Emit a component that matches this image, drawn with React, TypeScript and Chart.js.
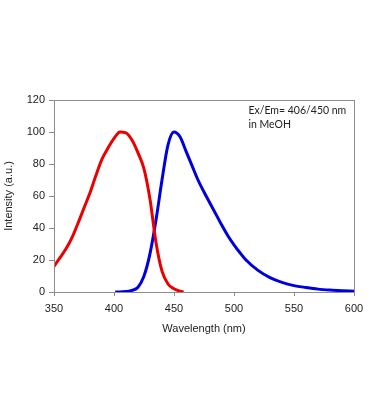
import React, { useEffect, useRef } from "react";
import { Chart, registerables } from "chart.js";

Chart.register(...registerables);

const excitationWavelengths = [350, 355, 360, 365, 370, 375, 380, 385, 390, 395, 400, 405, 410, 415, 420, 425, 430, 435, 440, 445, 450, 455, 458];
const excitationIntensity = [16, 21.5, 27, 34, 43, 52.5, 62, 73, 83, 90, 96, 100, 99.5, 95, 87, 77, 58, 31, 13, 5, 2, 0.5, 0];

const emissionWavelengths = [401, 405, 410, 415, 420, 425, 430, 435, 440, 445, 450, 455, 460, 465, 470, 475, 480, 485, 490, 495, 500, 505, 510, 520, 530, 540, 550, 560, 570, 580, 590, 600];
const emissionIntensity = [0, 0, 0.3, 1, 3, 10, 24, 45, 70, 92, 100, 97, 88, 79, 70, 62.5, 55.5, 48.5, 41.5, 35, 29.5, 24.5, 20, 13.5, 9, 6, 4, 2.8, 1.8, 1.2, 0.8, 0.5];

const annotationLines = ["Ex/Em= 406/450 nm", "in MeOH"];
const annotationX = 512;
const annotationY = [113.5, 104.7];

const xTitle = "Wavelength (nm)";
const yTitle = "Intensity (a.u.)";

const toPoints = (xs: number[], ys: number[]) => xs.map((x, i) => ({ x, y: ys[i] }));

const framePlugin = {
  id: "frame",
  afterDraw(chart: any) {
    const { ctx, chartArea, scales } = chart;
    ctx.save();
    ctx.strokeStyle = "#8c8c8c";
    ctx.lineWidth = 1;
    ctx.strokeRect(chartArea.left + 0.5, chartArea.top + 0.5, chartArea.right - chartArea.left, chartArea.bottom - chartArea.top);
    ctx.fillStyle = "#222";
    ctx.font = "10.5px Lato, sans-serif";
    ctx.textAlign = "left";
    ctx.textBaseline = "middle";
    annotationLines.forEach((t, i) => {
      ctx.fillText(t, scales.x.getPixelForValue(annotationX), scales.y.getPixelForValue(annotationY[i]));
    });
    ctx.restore();
  },
};

export default function App() {
  const ref = useRef<HTMLCanvasElement>(null);
  useEffect(() => {
    document.body.style.margin = "0";
    const chart = new Chart(ref.current!, {
      type: "line",
      data: {
        datasets: [
          {
            data: toPoints(excitationWavelengths, excitationIntensity),
            borderColor: "rgb(235,0,0)",
            borderWidth: 3,
            pointRadius: 0,
            tension: 0.4,
            cubicInterpolationMode: "monotone",
          },
          {
            data: toPoints(emissionWavelengths, emissionIntensity),
            borderColor: "rgb(0,0,220)",
            borderWidth: 3,
            pointRadius: 0,
            tension: 0.4,
            cubicInterpolationMode: "monotone",
          },
        ],
      },
      options: {
        responsive: false,
        animation: false,
        layout: { padding: { top: 100, right: 16, bottom: 80, left: 0 } },
        plugins: { legend: { display: false }, tooltip: { enabled: false } },
        scales: {
          x: {
            type: "linear",
            min: 350,
            max: 600,
            ticks: { stepSize: 50, color: "#222", font: { family: "'Liberation Sans', Arial", size: 11 }, padding: 6 },
            grid: { drawOnChartArea: false, tickLength: 4, color: "#8c8c8c" },
            border: { color: "#8c8c8c" },
            title: { display: true, text: xTitle, color: "#222", font: { family: "'Liberation Sans', Arial", size: 11 }, padding: { top: 11 } },
            afterFit: (s: any) => { s.height = 48; },
          },
          y: {
            min: 0,
            max: 120,
            ticks: { stepSize: 20, color: "#222", font: { family: "'Liberation Sans', Arial", size: 11 }, padding: 4 },
            grid: { drawOnChartArea: false, tickLength: 5, color: "#8c8c8c" },
            border: { color: "#8c8c8c" },
            title: { display: true, text: yTitle, color: "#222", font: { family: "'Liberation Sans', Arial", size: 11 }, padding: { top: 2, bottom: 0 } },
            afterFit: (s: any) => { s.width = 54; },
          },
        },
      },
      plugins: [framePlugin],
    } as any);
    return () => chart.destroy();
  }, []);
  return (
    <div style={{ position: "absolute", left: 0, top: 0, width: 370, height: 420, background: "#fff" }}>
      <canvas ref={ref} width={370} height={420} />
    </div>
  );
}
